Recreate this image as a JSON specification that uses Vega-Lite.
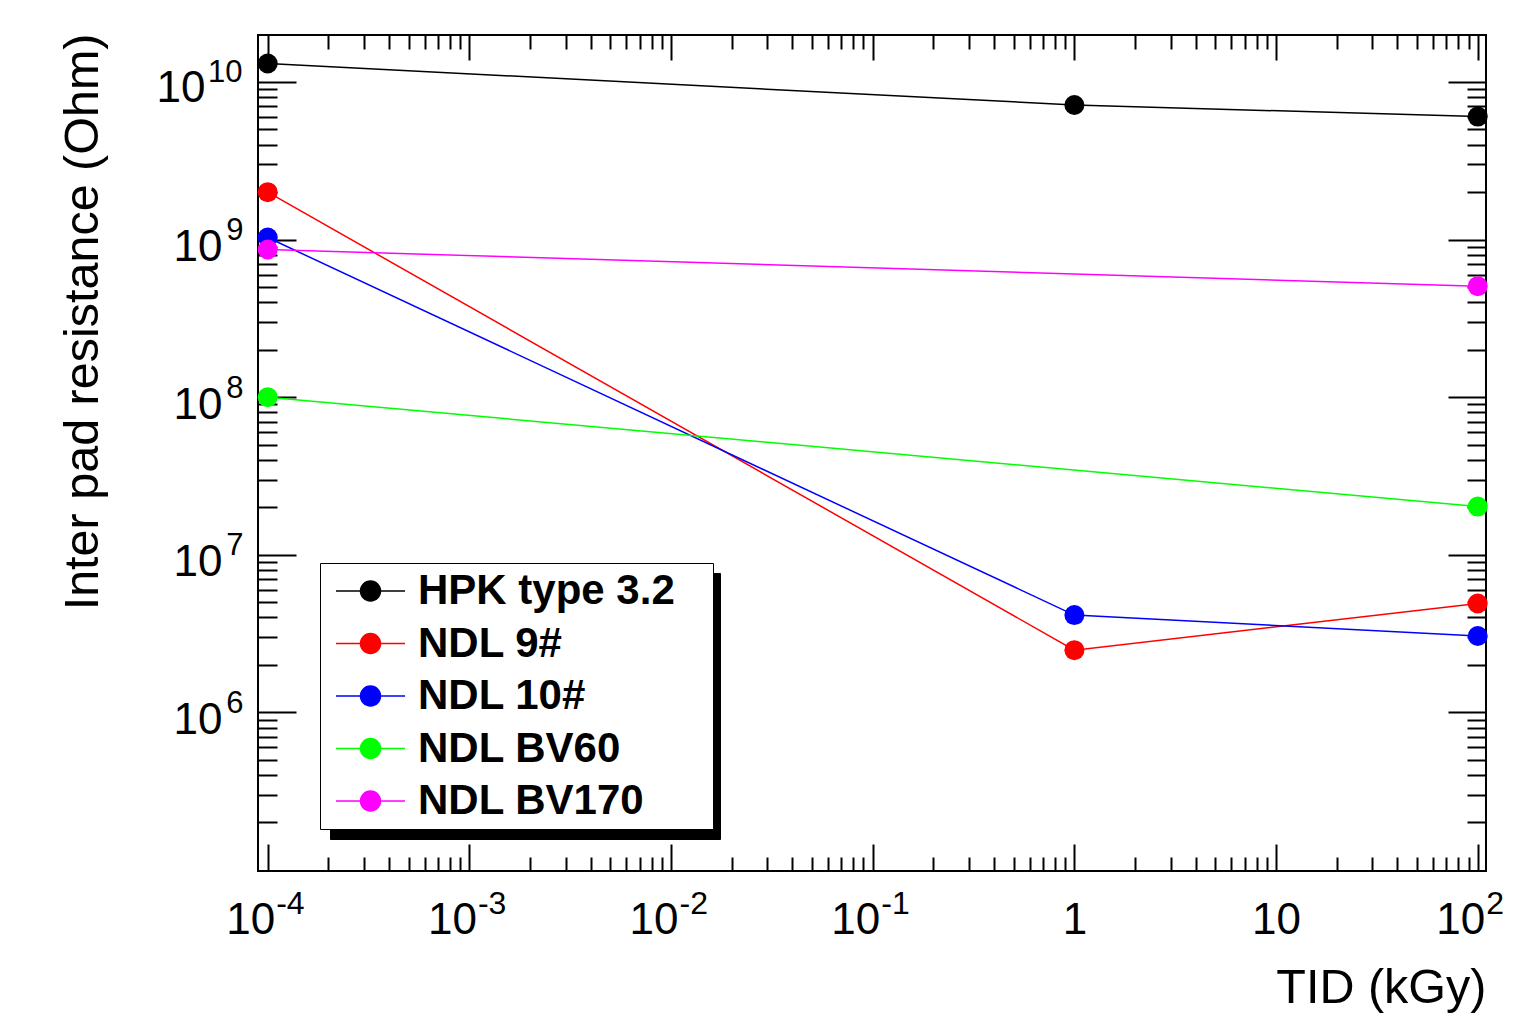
{
  "$schema": "https://vega.github.io/schema/vega-lite/v6.json",
  "width": 1228,
  "height": 836,
  "autosize": {"type": "none"},
  "padding": {"left": 258, "top": 35, "right": 34, "bottom": 144},
  "background": "white",
  "config": {
    "view": {"stroke": "black", "strokeWidth": 2},
    "font": "Liberation Sans",
    "axis": {
      "grid": false, "domain": false, "tickColor": "black", "tickWidth": 2,
      "labelColor": "black", "titleColor": "black",
      "labelFont": "Liberation Sans", "titleFont": "Liberation Sans",
      "labelFontSize": 44, "titleFontSize": 48.5, "titleFontWeight": "normal",
      "labelFlush": false, "labelOverlap": false, "labelBaseline": "alphabetic"
    },
    "legend": {
      "orient": "none", "title": null, "padding": 7,
      "labelFont": "Liberation Sans", "labelFontSize": 42, "labelFontWeight": "bold",
      "labelLimit": 600, "rowPadding": 10.5, "labelOffset": 49,
      "symbolSize": 1600, "symbolStrokeWidth": 1.5
    }
  },
  "datasets": {
    "points": [
      {"series": "HPK type 3.2", "tid": 0.0001, "r": 13100000000},
      {"series": "HPK type 3.2", "tid": 1, "r": 7150000000},
      {"series": "HPK type 3.2", "tid": 100, "r": 6030000000},
      {"series": "NDL 9#", "tid": 0.0001, "r": 2000000000},
      {"series": "NDL 9#", "tid": 1, "r": 2480000},
      {"series": "NDL 9#", "tid": 100, "r": 4900000},
      {"series": "NDL 10#", "tid": 0.0001, "r": 1030000000},
      {"series": "NDL 10#", "tid": 1, "r": 4140000},
      {"series": "NDL 10#", "tid": 100, "r": 3050000},
      {"series": "NDL BV60", "tid": 0.0001, "r": 100000000},
      {"series": "NDL BV60", "tid": 100, "r": 20200000},
      {"series": "NDL BV170", "tid": 0.0001, "r": 865000000},
      {"series": "NDL BV170", "tid": 100, "r": 506000000}
    ],
    "shadow": [
      {"series": "HPK type 3.2"},
      {"series": "NDL 9#"},
      {"series": "NDL 10#"},
      {"series": "NDL BV60"},
      {"series": "NDL BV170"}
    ]
  },
  "layer": [
    {
      "data": {"name": "points"},
      "mark": {"type": "line", "strokeWidth": 1.5},
      "encoding": {
        "x": {"field": "tid", "type": "quantitative",
          "scale": {"type": "log", "domain": [0.0000895, 109.9], "nice": false},
          "axis": {"orient": "bottom", "values": [0.0001, 0.001, 0.01, 0.1, 1, 10, 100],
            "tickSize": -27, "labelPadding": 89,
            "labelExpr": "datum.value > 0.5 && datum.value < 50 ? (datum.value < 5 ? '1' : '10') : ''",
            "title": "TID (kGy)", "titleX": 1228, "titleY": 131, "titleAlign": "right", "titleBaseline": "alphabetic", "titleAngle": 0}},
        "y": {"field": "r", "type": "quantitative",
          "scale": {"type": "log", "domain": [98400, 19870000000], "nice": false},
          "axis": {"orient": "left", "values": [1000000, 10000000, 100000000, 1000000000, 10000000000],
            "tickSize": -38, "labelPadding": 74, "labelOffset": 21, "labelAlign": "right",
            "labelExpr": "datum.value < 5000000000 ? '10' : ''",
            "title": "Inter pad resistance (Ohm)", "titleAngle": -90, "titleX": -161, "titleY": -2, "titleAlign": "right", "titleBaseline": "alphabetic"}},
        "color": {"field": "series", "type": "nominal",
          "scale": {"domain": ["HPK type 3.2", "NDL 9#", "NDL 10#", "NDL BV60", "NDL BV170"],
                    "range": ["#000000", "#ff0000", "#0000ff", "#00ff00", "#ff00ff"]},
          "legend": {"legendX": 62, "legendY": 528, "fillColor": "white", "strokeColor": "black", "zindex": 2,
            "labelColor": "black",
            "symbolType": "M-0.6,0L2.85,0M0.625,0A0.5,0.5 0 1,0 1.625,0A0.5,0.5 0 1,0 0.625,0Z",
            "labelExpr": "datum.label + '\u2800'",
            "encode": {"symbols": {"update": {
              "fill": {"scale": "color", "field": "value"},
              "stroke": {"scale": "color", "field": "value"},
              "opacity": {"value": 1}}}}}}
      }
    },
    {
      "data": {"name": "points"},
      "mark": {"type": "point", "filled": true, "size": 400, "opacity": 1},
      "encoding": {
        "x": {"field": "tid", "type": "quantitative", "scale": {"type": "log", "domain": [0.0000895, 109.9], "nice": false}, "axis": null},
        "y": {"field": "r", "type": "quantitative", "scale": {"type": "log", "domain": [98400, 19870000000], "nice": false}, "axis": null},
        "color": {"field": "series", "type": "nominal",
          "scale": {"domain": ["HPK type 3.2", "NDL 9#", "NDL 10#", "NDL BV60", "NDL BV170"],
                    "range": ["#000000", "#ff0000", "#0000ff", "#00ff00", "#ff00ff"]}}
      }
    },
    {
      "data": {"name": "points"},
      "mark": {"type": "point", "opacity": 0},
      "encoding": {
        "x": {"field": "tid", "type": "quantitative", "scale": {"type": "log", "domain": [0.0000895, 109.9], "nice": false},
          "axis": {"orient": "bottom", "tickSize": -14, "labels": false, "title": null,
            "values": [0.0002,0.0003,0.0004,0.0005,0.0006,0.0007,0.0008,0.0009,0.002,0.003,0.004,0.005,0.006,0.007,0.008,0.009,0.02,0.03,0.04,0.05,0.06,0.07,0.08,0.09,0.2,0.3,0.4,0.5,0.6,0.7,0.8,0.9,2,3,4,5,6,7,8,9,20,30,40,50,60,70,80,90]}},
        "y": {"field": "r", "type": "quantitative", "scale": {"type": "log", "domain": [98400, 19870000000], "nice": false},
          "axis": {"orient": "left", "tickSize": -19, "labels": false, "title": null,
            "values": [200000,300000,400000,500000,600000,700000,800000,900000,2000000,3000000,4000000,5000000,6000000,7000000,8000000,9000000,20000000,30000000,40000000,50000000,60000000,70000000,80000000,90000000,200000000,300000000,400000000,500000000,600000000,700000000,800000000,900000000,2000000000,3000000000,4000000000,5000000000,6000000000,7000000000,8000000000,9000000000]}}
      }
    },
    {
      "data": {"name": "points"},
      "mark": {"type": "point", "opacity": 0},
      "encoding": {
        "x": {"field": "tid", "type": "quantitative", "scale": {"type": "log", "domain": [0.0000895, 109.9], "nice": false},
          "axis": {"orient": "top", "tickSize": -25, "labels": false, "title": null, "values": [0.0001, 0.001, 0.01, 0.1, 1, 10, 100]}},
        "y": {"field": "r", "type": "quantitative", "scale": {"type": "log", "domain": [98400, 19870000000], "nice": false},
          "axis": {"orient": "right", "tickSize": -38, "labels": false, "title": null, "values": [1000000, 10000000, 100000000, 1000000000, 10000000000]}}
      }
    },
    {
      "data": {"name": "points"},
      "mark": {"type": "point", "opacity": 0},
      "encoding": {
        "x": {"field": "tid", "type": "quantitative", "scale": {"type": "log", "domain": [0.0000895, 109.9], "nice": false},
          "axis": {"orient": "top", "tickSize": -14, "labels": false, "title": null,
            "values": [0.0002,0.0003,0.0004,0.0005,0.0006,0.0007,0.0008,0.0009,0.002,0.003,0.004,0.005,0.006,0.007,0.008,0.009,0.02,0.03,0.04,0.05,0.06,0.07,0.08,0.09,0.2,0.3,0.4,0.5,0.6,0.7,0.8,0.9,2,3,4,5,6,7,8,9,20,30,40,50,60,70,80,90]}},
        "y": {"field": "r", "type": "quantitative", "scale": {"type": "log", "domain": [98400, 19870000000], "nice": false},
          "axis": {"orient": "right", "tickSize": -19, "labels": false, "title": null,
            "values": [200000,300000,400000,500000,600000,700000,800000,900000,2000000,3000000,4000000,5000000,6000000,7000000,8000000,9000000,20000000,30000000,40000000,50000000,60000000,70000000,80000000,90000000,200000000,300000000,400000000,500000000,600000000,700000000,800000000,900000000,2000000000,3000000000,4000000000,5000000000,6000000000,7000000000,8000000000,9000000000]}}
      }
    },
    {
      "data": {"name": "points"},
      "mark": {"type": "point", "opacity": 0},
      "encoding": {
        "x": {"field": "tid", "type": "quantitative", "scale": {"type": "log", "domain": [0.0000895, 109.9], "nice": false},
          "axis": {"orient": "bottom", "values": [0.0001, 0.001, 0.01, 0.1, 100], "title": null,
            "tickSize": -27, "tickOpacity": 0, "labelPadding": 89, "labelAlign": "right", "labelOffset": 7,
            "labelExpr": "'10'"}},
        "y": {"field": "r", "type": "quantitative", "scale": {"type": "log", "domain": [98400, 19870000000], "nice": false},
          "axis": {"orient": "left", "values": [10000000000], "title": null,
            "tickSize": -38, "tickOpacity": 0, "labelPadding": 91, "labelOffset": 20, "labelAlign": "right",
            "labelExpr": "'10'"}}
      }
    },
    {
      "data": {"name": "points"},
      "mark": {"type": "point", "opacity": 0},
      "encoding": {
        "x": {"field": "tid", "type": "quantitative", "scale": {"type": "log", "domain": [0.0000895, 109.9], "nice": false},
          "axis": {"orient": "bottom", "values": [0.0001, 0.001, 0.01, 0.1, 100], "title": null,
            "tickSize": -27, "tickOpacity": 0, "labelPadding": 69, "labelAlign": "left", "labelOffset": 8, "labelFontSize": 32,
            "labelExpr": "datum.value < 0.0005 ? '-4' : datum.value < 0.005 ? '-3' : datum.value < 0.05 ? '-2' : datum.value < 0.5 ? '-1' : '2'"}},
        "y": {"field": "r", "type": "quantitative", "scale": {"type": "log", "domain": [98400, 19870000000], "nice": false},
          "axis": {"orient": "left", "values": [1000000, 10000000, 100000000, 1000000000], "title": null,
            "tickSize": -38, "tickOpacity": 0, "labelPadding": 53, "labelOffset": 0, "labelAlign": "right", "labelFontSize": 31,
            "labelExpr": "datum.value < 5000000 ? '6' : datum.value < 50000000 ? '7' : datum.value < 500000000 ? '8' : '9'"}}
      }
    },
    {
      "data": {"name": "points"},
      "mark": {"type": "point", "opacity": 0},
      "encoding": {
        "y": {"field": "r", "type": "quantitative", "scale": {"type": "log", "domain": [98400, 19870000000], "nice": false},
          "axis": {"orient": "left", "values": [10000000000], "title": null,
            "tickSize": -38, "tickOpacity": 0, "labelPadding": 54, "labelOffset": 0, "labelAlign": "right", "labelFontSize": 31,
            "labelExpr": "'10'"}}
      }
    },
    {
      "data": {"name": "shadow"},
      "mark": {"type": "point", "opacity": 0},
      "encoding": {
        "shape": {"field": "series", "type": "nominal",
          "scale": {"range": ["M-0.6,0L2.85,0", "M-0.6,0L2.85,0", "M-0.6,0L2.85,0", "M-0.6,0L2.85,0", "M-0.6,0L2.85,0"]},
          "legend": {"legendX": 72, "legendY": 538, "fillColor": "black", "strokeColor": "black", "zindex": 1,
            "labelColor": "black", "symbolFillColor": "black", "symbolStrokeColor": "black",
            "labelOffset": 334,
            "labelExpr": "''"}}
      }
    }
  ],
  "resolve": {"axis": {"x": "independent", "y": "independent"}}
}
